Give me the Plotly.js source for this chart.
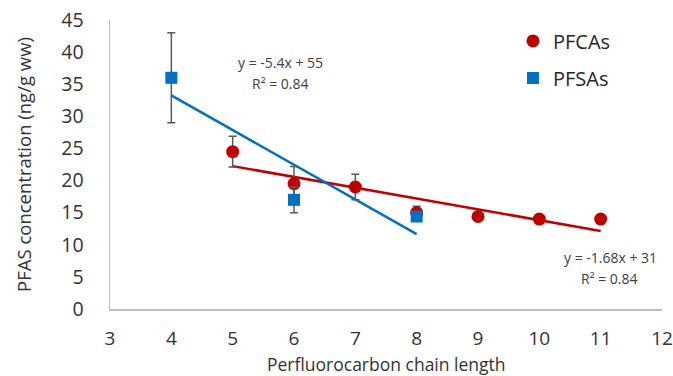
<!DOCTYPE html>
<html>
<head>
<meta charset="utf-8">
<script src="https://cdn.plot.ly/plotly-3.0.1.min.js"></script>
<style>html,body{margin:0;padding:0;background:#fff}#chart{width:673px;height:376px}</style>
</head>
<body>
<div id="chart"></div>
<script>
// Data
const pfcaX = [5, 6, 7, 8, 9, 10, 11];
const pfcaY = [24.5, 19.5, 19.0, 15.0, 14.4, 14.0, 14.0];
const pfcaErr = [2.4, 2.7, 2.0, 1.0, 0, 0, 0];

const pfsaX = [4, 6, 8];
const pfsaY = [36.0, 17.0, 14.4];
const pfsaErr = [7.0, 2.0, 0];

const xTicks = [3, 4, 5, 6, 7, 8, 9, 10, 11, 12];
const yTicks = [0, 5, 10, 15, 20, 25, 30, 35, 40, 45];

const red = '#C00000';
const blue = '#0070C0';
const errColor = '#595959';
const font = 'Open Sans, Noto Sans, sans-serif';

// Linear least-squares trend lines computed from the data
function fit(xs, ys) {
  const n = xs.length;
  const mx = xs.reduce((a, b) => a + b, 0) / n;
  const my = ys.reduce((a, b) => a + b, 0) / n;
  let sxy = 0, sxx = 0;
  for (let i = 0; i < n; i++) { sxy += (xs[i] - mx) * (ys[i] - my); sxx += (xs[i] - mx) ** 2; }
  const m = sxy / sxx, b = my - m * mx;
  const x0 = Math.min(...xs), x1 = Math.max(...xs);
  return { x: [x0, x1], y: [m * x0 + b, m * x1 + b] };
}
const redFit = fit(pfcaX, pfcaY);
const blueFit = fit(pfsaX, pfsaY);

const traces = [
  { x: redFit.x, y: redFit.y, mode: 'lines', line: { color: red, width: 2.5 }, showlegend: false, hoverinfo: 'skip' },
  { x: blueFit.x, y: blueFit.y, mode: 'lines', line: { color: blue, width: 2.5 }, showlegend: false, hoverinfo: 'skip' },
  { x: pfcaX, y: pfcaY, name: 'PFCAs', mode: 'markers', legendgroup: 'a',
    marker: { symbol: 'circle', size: 13, color: red },
    error_y: { type: 'data', array: pfcaErr, color: errColor, thickness: 1.5, width: 4 } },
  { x: pfsaX, y: pfsaY, name: 'PFSAs', mode: 'markers', legendgroup: 'b',
    marker: { symbol: 'square', size: 12, color: blue },
    error_y: { type: 'data', array: pfsaErr, color: errColor, thickness: 1.5, width: 4 } }
];

const plotW = 552, plotH = 289;
const layout = {
  width: 673, height: 376,
  margin: { l: 110, r: 11, t: 20, b: 67 },
  paper_bgcolor: '#fff', plot_bgcolor: '#fff',
  font: { family: font, color: '#404040' },
  showlegend: true,
  legend: { x: 0.73, y: 0.995, xanchor: 'left', yanchor: 'top', font: { size: 20, color: '#262626', family: font },
            bgcolor: 'rgba(0,0,0,0)', tracegroupgap: 8, itemwidth: 30 },
  xaxis: { range: [3, 12], tickvals: xTicks, ticktext: xTicks.map(String), showgrid: false, zeroline: false,
           showline: true, linecolor: '#bfbfbf', linewidth: 1.5, ticks: '', ticklen: 0,
           ticklabeloverflow: 'allow', ticklabelstandoff: 12,
           tickfont: { size: 19, color: '#333333' } },
  yaxis: { range: [0, 45], tickvals: yTicks, ticktext: yTicks.map(String), showgrid: false, zeroline: false,
           showline: true, linecolor: '#bfbfbf', linewidth: 1.5, ticks: '', ticklen: 0,
           ticklabeloverflow: 'allow', ticklabelstandoff: 21,
           tickfont: { size: 19.5, color: '#333333' },
           title: { text: 'PFAS concentration (ng/g ww)', font: { size: 18.5, color: '#333333' }, standoff: 25 } },
  annotations: [
    { xref: 'paper', yref: 'paper', x: (386 - 110) / plotW, y: (309 - 364) / plotH, xanchor: 'center', yanchor: 'middle', text: 'Perfluorocarbon chain length', showarrow: false, font: { size: 17.5, color: '#333333' } },
    { xref: 'paper', yref: 'paper', x: (280 - 110) / plotW, y: (309 - 63) / plotH, xanchor: 'center', yanchor: 'middle', text: 'y = -5.4x + 55', showarrow: false, font: { size: 14, color: '#404040' } },
    { xref: 'paper', yref: 'paper', x: (280 - 110) / plotW, y: (309 - 83) / plotH, xanchor: 'center', yanchor: 'middle', text: 'R² = 0.84', showarrow: false, font: { size: 14, color: '#404040' } },
    { xref: 'paper', yref: 'paper', x: (610 - 110) / plotW, y: (309 - 257) / plotH, xanchor: 'center', yanchor: 'middle', text: 'y = -1.68x + 31', showarrow: false, font: { size: 14, color: '#404040' } },
    { xref: 'paper', yref: 'paper', x: (609 - 110) / plotW, y: (309 - 278) / plotH, xanchor: 'center', yanchor: 'middle', text: 'R² = 0.84', showarrow: false, font: { size: 14, color: '#404040' } }
  ]
};

Plotly.newPlot('chart', traces, layout, { staticPlot: true, displayModeBar: false });
</script>
</body>
</html>
